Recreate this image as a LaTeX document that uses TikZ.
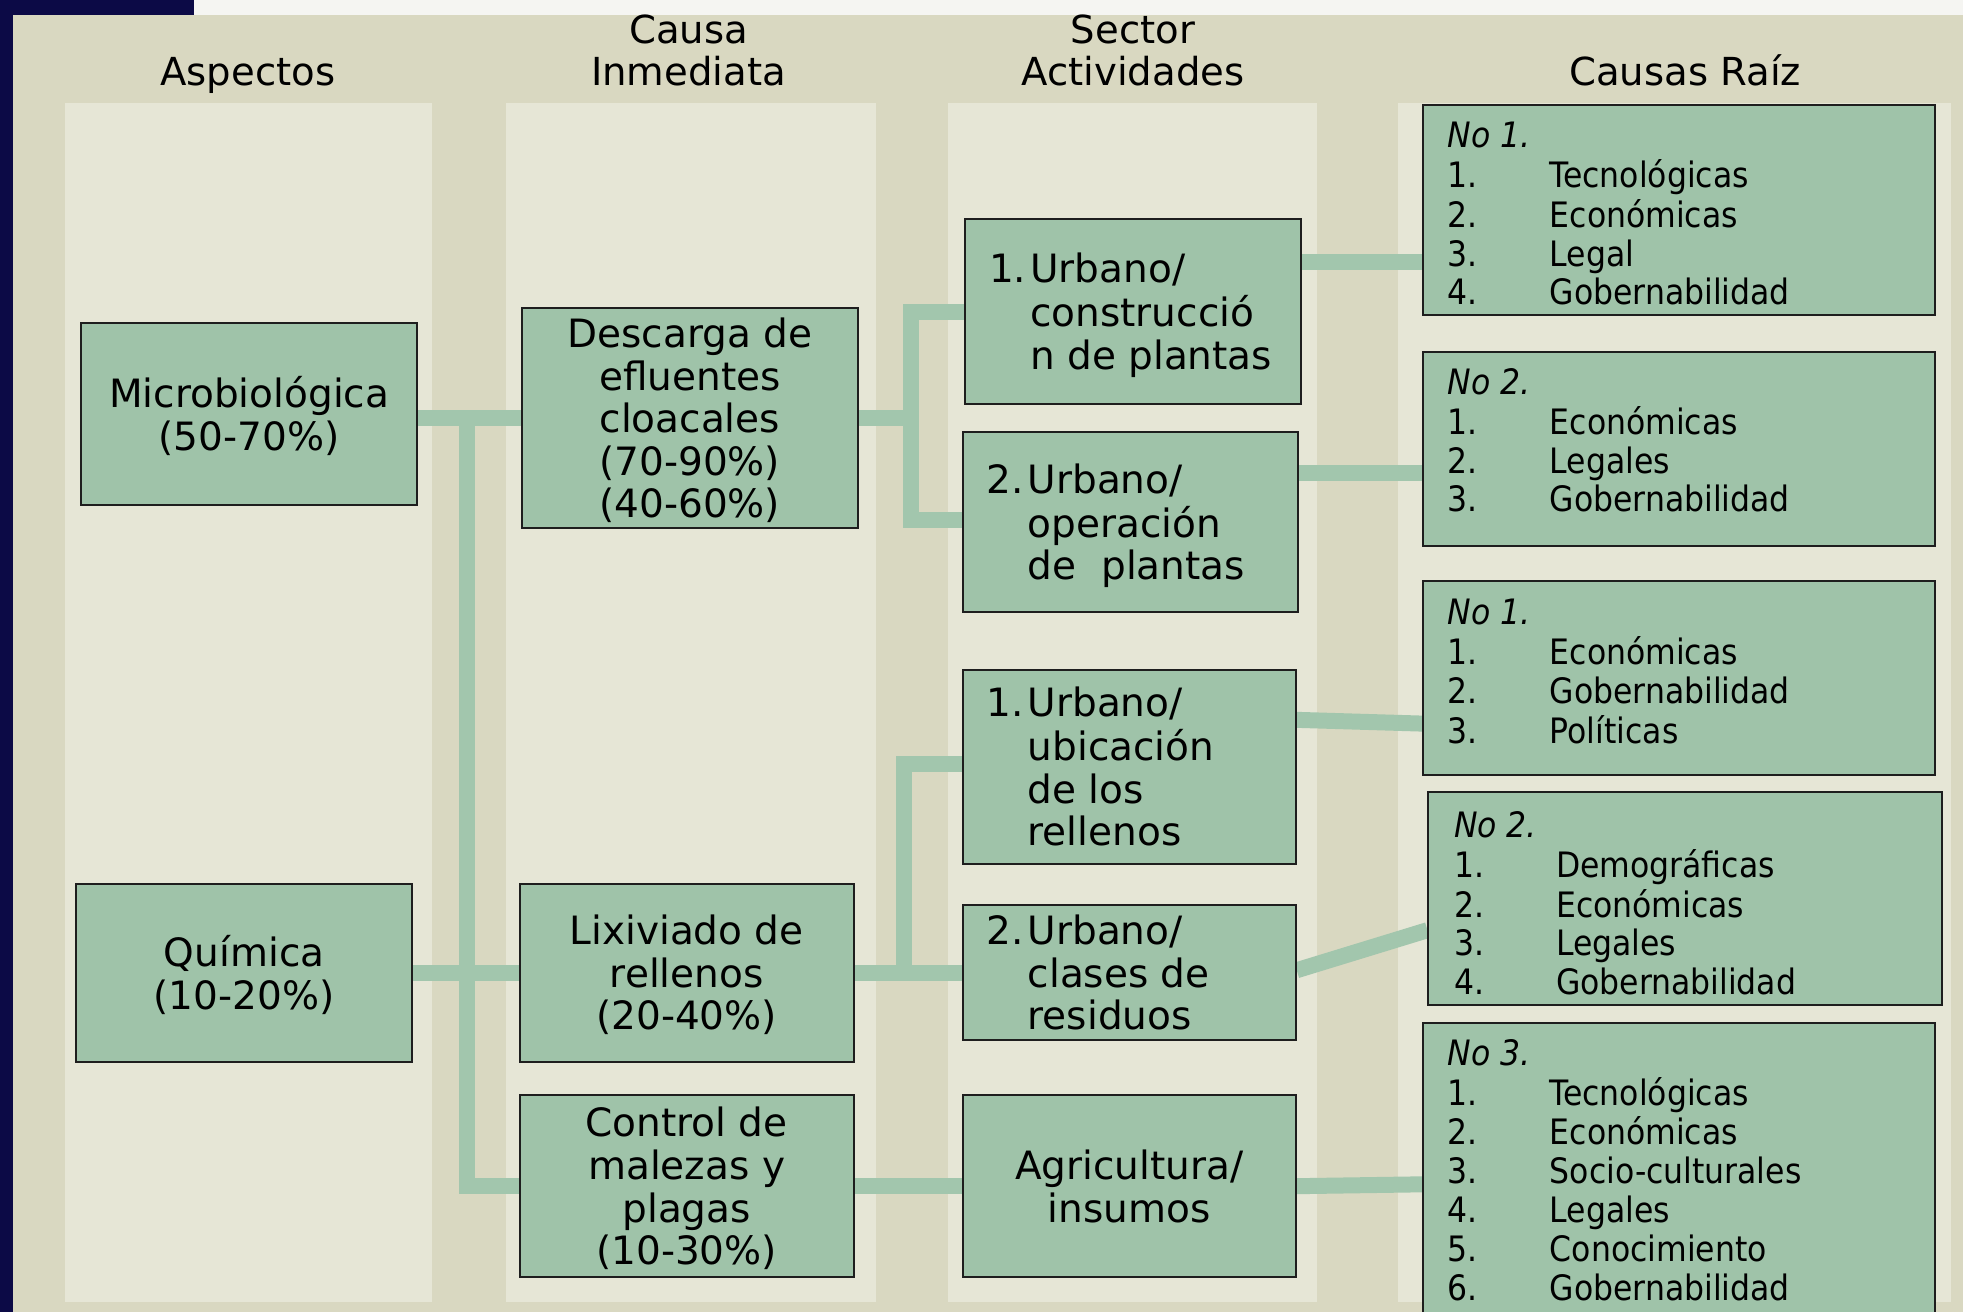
\documentclass[tikz,border=0pt]{standalone}
\usepackage{fontspec}
\setmainfont{DejaVu Sans}
\newfontfamily\condf{DejaVu Sans Condensed}
\usetikzlibrary{calc}
\definecolor{navy}{HTML}{0C0A46}
\definecolor{beige}{HTML}{D9D8C1}
\definecolor{colbg}{HTML}{E6E6D6}
\definecolor{boxfill}{HTML}{9FC3A9}
\definecolor{connc}{HTML}{A2C6AD}
\definecolor{boxline}{HTML}{1E1E1E}
\definecolor{topwhite}{HTML}{F5F5F2}
\newcommand\mainsz{\fontsize{19.5}{21.3}\selectfont}
\newcommand\hdrsz{\fontsize{19.3}{20.7}\selectfont}
\newcommand\lstsz{\condf\fontsize{17.5}{19.4}\selectfont}
\newcommand\ctab[1]{\raisebox{-3pt}[\height][\depth]{\begin{tabular}{@{}c@{}}#1\end{tabular}}}
\newcommand\htab[2]{\makebox[\dimexpr0.626pt*#1\relax][l]{\raisebox{-3pt}[\height][\depth]{\begin{tabular}{@{}l@{\hspace{2pt}}l@{}}#2\end{tabular}}}}
\newcommand\ltab[1]{\begin{tabular}[t]{@{}p{51pt}@{}l@{}}#1\end{tabular}}
\pgfdeclarelayer{bg}
\pgfdeclarelayer{conn}
\pgfsetlayers{bg,conn,main}
\tikzset{
  bx/.style={draw=boxline, fill=boxfill, line width=1pt, inner sep=0pt, font=\mainsz},
  sz/.style 2 args={minimum width=#1*0.626pt, minimum height=#2*0.626pt},
  conn/.style={draw=connc, line width=8pt, line join=miter},
  hdr/.style={font=\hdrsz, inner sep=0pt, anchor=base},
  lst/.style={font=\lstsz, inner sep=0pt, anchor=base west}
}
\begin{document}
\begin{tikzpicture}[x=0.626pt,y=-0.626pt]
\useasboundingbox (0,0) rectangle (1568,1048);
% boxes
\node[bx, sz={268}{145}] (micro) at (199,330.5) {\ctab{Microbiológica\\(50-70\%)}};
\node[bx, sz={268}{142}] (quim) at (195,777) {\ctab{Química\\(10-20\%)}};
\node[bx, sz={268}{176}] (desc) at (551,334) {\ctab{Descarga de\\efluentes\\cloacales\\(70-90\%)\\(40-60\%)}};
\node[bx, sz={267}{142}] (lix) at (548.5,777) {\ctab{Lixiviado de\\rellenos\\(20-40\%)}};
\node[bx, sz={267}{145}] (ctrl) at (548.5,947.5) {\ctab{Control de\\malezas y\\plagas\\(10-30\%)}};
\node[bx, sz={268}{148}] (s1) at (905,249) {\htab{230}{1.&Urbano/\\&construcció\\&n de plantas}};
\node[bx, sz={268}{144}] (s2) at (903,417) {\htab{230}{2.&Urbano/\\&operación\\&de\ \ plantas}};
\node[bx, sz={266}{155}] (s3) at (902,612.5) {\htab{228}{1.&Urbano/\\&ubicación\\&de los\\&rellenos}};
\node[bx, sz={266}{108}] (s4) at (902,777) {\htab{228}{2.&Urbano/\\&clases de\\&residuos}};
\node[bx, sz={266}{145}] (s5) at (902,947.5) {\ctab{Agricultura/\\insumos}};
\node[bx, sz={409}{168}] (r1) at (1341.5,168) {};
\node[bx, sz={409}{155}] (r2) at (1341.5,358.5) {};
\node[bx, sz={409}{155}] (r3) at (1341.5,541.5) {};
\node[bx, sz={410}{170}] (r4) at (1346,718) {};
\node[bx, sz={409}{243}] (r5) at (1341.5,938.5) {};
% list texts
\node[lst] (r1t) at ($(r1.north west)+(20,35)$) {\ltab{\textit{No 1.}&\\1.&Tecnológicas\\2.&Económicas\\3.&Legal\\4.&Gobernabilidad}};
\node[lst] (r2t) at ($(r2.north west)+(20,35)$) {\ltab{\textit{No 2.}&\\1.&Económicas\\2.&Legales\\3.&Gobernabilidad}};
\node[lst] (r3t) at ($(r3.north west)+(20,36)$) {\ltab{\textit{No 1.}&\\1.&Económicas\\2.&Gobernabilidad\\3.&Políticas}};
\node[lst] (r4t) at ($(r4.north west)+(21,37)$) {\ltab{\textit{No 2.}&\\1.&Demográficas\\2.&Económicas\\3.&Legales\\4.&Gobernabilidad}};
\node[lst] (r5t) at ($(r5.north west)+(20,35)$) {\ltab{\textit{No 3.}&\\1.&Tecnológicas\\2.&Económicas\\3.&Socio-culturales\\4.&Legales\\5.&Conocimiento\\6.&Gobernabilidad}};
% headers
\node[hdr] (h1) at (198,68) {Aspectos};
\node[hdr] (h2) at (550,68) {\begin{tabular}[b]{@{}c@{}}Causa\\Inmediata\end{tabular}};
\node[hdr] (h3) at (905,68) {\begin{tabular}[b]{@{}c@{}}Sector\\Actividades\end{tabular}};
\node[hdr] (h4) at (1346,68) {Causas Raíz};
% junctions
\coordinate (j0) at (373,334);
\coordinate (j1) at (728,334);
\coordinate (j2) at (722,777);
\begin{pgfonlayer}{conn}
\draw[conn] (micro.east |- desc.west) -- (desc.west);
\draw[conn] (j0) |- (ctrl.west);
\draw[conn] (quim.east) -- (lix.west);
\draw[conn] (desc.east) -- (j1);
\draw[conn] (j1) |- (s1.west);
\draw[conn] (j1) |- ($(s2.west)+(0,-2)$);
\draw[conn] (lix.east) -- (s4.west);
\draw[conn] (j2) |- ($(s3.west)+(0,-2)$);
\draw[conn] (ctrl.east) -- (s5.west);
\draw[conn] ($(s1.east)+(0,-40)$) -- ($(r1.west)+(0,41)$);
\draw[conn] ($(s2.east)+(0,-39)$) -- ($(r2.west)+(0,19.5)$);
\draw[conn] ($(s3.east)+(0,-37.5)$) -- ($(r3.west)+(0,36.5)$);
\draw[conn] ($(s4.east)+(0,-2)$) -- ($(r4.west)+(0,25)$);
\draw[conn] (s5.east) -- ($(r5.west)+(0,7.5)$);
\end{pgfonlayer}
\begin{pgfonlayer}{bg}
\fill[beige] (0,0) rectangle (1568,1048);
\fill[topwhite] (155,0) rectangle (1568,12);
\fill[navy] (0,0) rectangle (155,12);
\fill[navy] (0,0) rectangle (10,1048);
\fill[colbg] (52,82) rectangle (345,1040);
\fill[colbg] (404,82) rectangle (700,1040);
\fill[colbg] (757,82) rectangle (1052,1040);
\fill[colbg] (1117,82) rectangle (1558,1040);
\end{pgfonlayer}
\end{tikzpicture}
\end{document}
